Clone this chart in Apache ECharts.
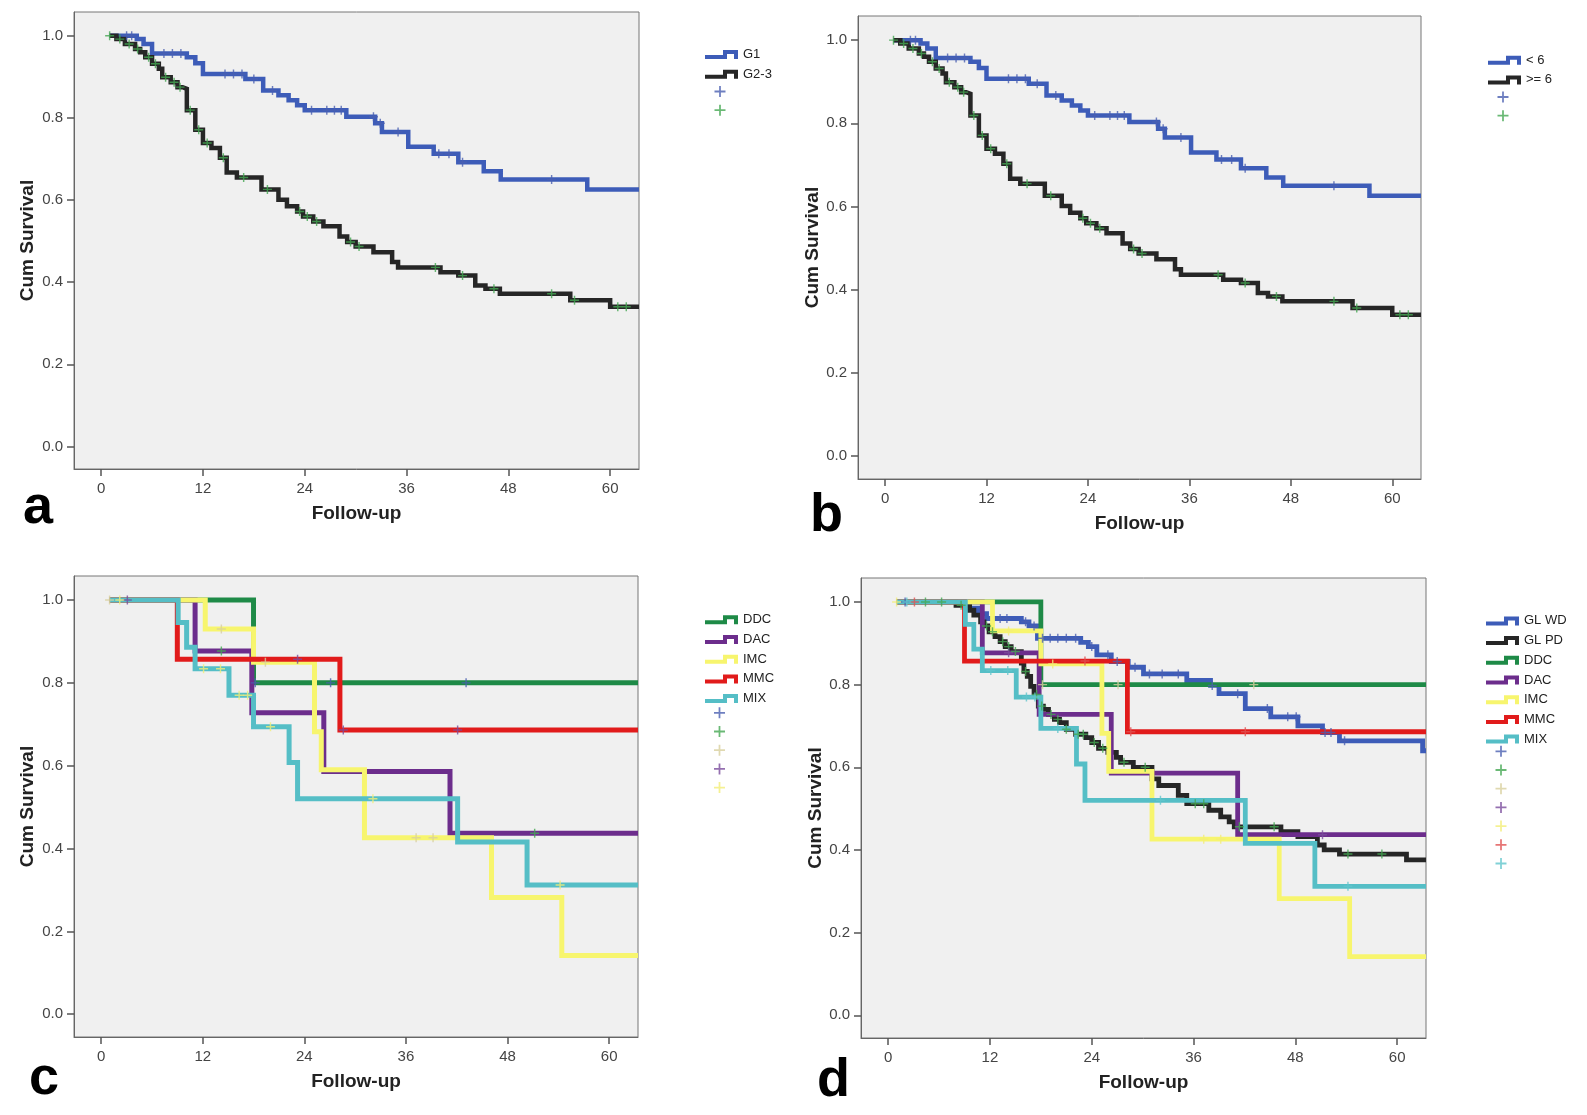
<!DOCTYPE html>
<html><head><meta charset="utf-8">
<script src="https://cdn.jsdelivr.net/npm/echarts@6/dist/echarts.min.js"></script>
<style>html,body{margin:0;padding:0;background:#fff}#chart{width:1587px;height:1115px}</style>
</head><body><div id="chart"></div>
<script>
// ---------- axis ticks ----------
const xTicks = [0, 12, 24, 36, 48, 60];
const yTicks = [0, 0.2, 0.4, 0.6, 0.8, 1.0];

// ---------- panel a (and b: same groups, read identical) ----------
const g1Curve = [[1.0,1.0],[4.2,0.992],[5.0,0.980],[6.0,0.957],[10.1,0.948],[11.1,0.933],[12.0,0.907],[17.0,0.895],[19.1,0.867],[20.9,0.855],[22.1,0.843],[23.1,0.831],[24.0,0.819],[28.9,0.803],[32.3,0.787],[33.1,0.766],[36.2,0.730],[39.2,0.713],[42.1,0.692],[45.1,0.670],[47.1,0.650],[57.3,0.626],[63.4,0.626]];
const g1Censor = [[3.0,1.0],[3.6,1.0],[7.4,0.957],[8.4,0.957],[9.4,0.957],[14.6,0.907],[15.6,0.907],[16.6,0.907],[18.0,0.895],[20.2,0.867],[24.8,0.819],[26.6,0.819],[27.5,0.819],[28.3,0.819],[32.1,0.803],[32.9,0.787],[35.0,0.766],[39.8,0.713],[41.0,0.713],[42.6,0.692],[53.1,0.650]];
const g23Curve = [[1.0,1.0],[1.8,0.992],[2.8,0.980],[4.0,0.968],[4.6,0.960],[5.2,0.948],[6.0,0.932],[6.8,0.920],[7.2,0.899],[8.2,0.887],[9.0,0.875],[9.6,0.871],[10.1,0.819],[11.1,0.771],[12.0,0.739],[13.0,0.727],[14.0,0.703],[14.8,0.667],[16.0,0.655],[18.9,0.626],[20.9,0.601],[21.9,0.585],[23.1,0.572],[23.8,0.560],[25.0,0.548],[26.2,0.536],[28.1,0.511],[29.0,0.498],[30.0,0.487],[32.1,0.473],[34.3,0.449],[35.0,0.436],[40.0,0.424],[42.1,0.416],[44.1,0.392],[45.3,0.384],[47.0,0.372],[55.3,0.356],[60.0,0.340],[63.4,0.340]];
const g23Censor = [[1.0,1.0],[2.2,0.992],[3.3,0.980],[4.3,0.968],[5.6,0.948],[6.4,0.932],[7.6,0.899],[8.6,0.887],[9.3,0.875],[10.5,0.819],[11.5,0.771],[12.5,0.739],[14.4,0.703],[16.8,0.655],[19.6,0.626],[23.4,0.572],[24.3,0.560],[25.4,0.548],[29.4,0.498],[30.4,0.487],[39.4,0.436],[42.6,0.416],[46.3,0.384],[53.1,0.372],[55.8,0.356],[60.9,0.340],[61.9,0.340]];
const lt6Curve = g1Curve, lt6Censor = g1Censor;
const ge6Curve = g23Curve, ge6Censor = g23Censor;

// ---------- panel c (histotypes; reused in d) ----------
const ddcCurve = [[1.0,1.0],[18.0,0.8],[63.4,0.8]];
const ddcCensor = [[18.2,0.8],[27.1,0.8],[43.1,0.8]];
const dacCurve = [[1.0,1.0],[11.1,0.877],[17.8,0.728],[26.3,0.586],[41.2,0.437],[63.4,0.437]];
const dacCensor = [[14.2,0.877],[51.2,0.437]];
const imcCurve = [[1.0,1.0],[12.3,0.930],[18.0,0.850],[25.2,0.682],[26.0,0.590],[31.1,0.426],[46.1,0.282],[54.4,0.142],[63.4,0.142]];
const imcCensor = [[1.0,1.0],[14.2,0.930],[19.4,0.850],[37.2,0.426],[39.2,0.426]];
const mmcCurve = [[1.0,1.0],[9.0,0.857],[28.2,0.686],[63.4,0.686]];
const mmcCensor = [[3.1,1.0],[23.2,0.857],[28.6,0.686],[42.1,0.686]];
const mixCurve = [[1.0,1.0],[9.1,0.946],[10.1,0.886],[11.1,0.834],[15.1,0.770],[18.0,0.694],[22.2,0.608],[23.2,0.520],[42.1,0.416],[50.3,0.312],[63.4,0.312]];
const mixCensor = [[2.2,1.0],[12.1,0.834],[14.1,0.834],[16.3,0.770],[17.3,0.770],[20.0,0.694],[32.1,0.520],[54.2,0.312]];

// ---------- panel d (gland-forming groups) ----------
const glwdCurve = [[1.0,1.0],[9.4,0.985],[10.6,0.972],[11.6,0.960],[15.7,0.952],[16.6,0.942],[17.6,0.912],[22.7,0.902],[23.6,0.892],[24.6,0.872],[26.3,0.856],[28.3,0.842],[30.1,0.826],[35.2,0.810],[38.0,0.798],[39.0,0.778],[42.1,0.742],[45.1,0.722],[48.3,0.700],[51.2,0.684],[53.2,0.664],[63.0,0.640],[63.4,0.640]];
const glwdCensor = [[2.0,1.0],[13.2,0.960],[14.0,0.960],[16.2,0.952],[17.2,0.942],[18.2,0.912],[19.1,0.912],[20.0,0.912],[21.0,0.912],[22.1,0.912],[24.0,0.892],[25.9,0.872],[27.0,0.856],[29.1,0.842],[30.8,0.826],[32.3,0.826],[34.2,0.826],[38.2,0.798],[41.2,0.778],[44.7,0.742],[47.1,0.722],[48.1,0.722],[51.5,0.684],[52.2,0.684],[53.8,0.664]];
const glpdCurve = [[1.0,1.0],[8.0,0.992],[9.6,0.980],[10.1,0.968],[10.9,0.952],[11.3,0.942],[11.9,0.928],[12.6,0.916],[13.2,0.904],[13.8,0.892],[14.5,0.880],[15.7,0.852],[16.0,0.832],[16.4,0.820],[16.8,0.796],[17.2,0.776],[17.7,0.748],[18.3,0.740],[18.9,0.728],[19.6,0.716],[20.2,0.708],[21.0,0.692],[22.1,0.680],[23.3,0.672],[24.0,0.660],[24.8,0.646],[25.9,0.636],[26.9,0.624],[27.4,0.612],[28.9,0.600],[31.1,0.572],[31.9,0.556],[34.2,0.532],[35.2,0.512],[37.8,0.496],[39.2,0.480],[40.2,0.468],[40.8,0.456],[46.3,0.444],[48.3,0.432],[50.6,0.412],[51.4,0.400],[53.2,0.390],[61.1,0.376],[63.4,0.376]];
const glpdCensor = [[4.4,1.0],[6.3,1.0],[8.6,0.992],[11.6,0.942],[12.3,0.928],[13.5,0.904],[14.2,0.892],[15.0,0.880],[16.2,0.832],[17.5,0.776],[18.1,0.748],[19.2,0.728],[20.0,0.716],[21.0,0.692],[22.4,0.680],[23.0,0.680],[24.3,0.660],[25.3,0.646],[27.8,0.612],[30.3,0.600],[36.2,0.512],[37.2,0.512],[41.4,0.456],[45.5,0.456],[54.2,0.390],[58.2,0.390]];

// ---------- styling ----------
const FONT = 'Liberation Sans, Arial, sans-serif';
const C = {
  blue:'#3d5cb8', black:'#262626', green:'#1e8a47', purple:'#6c2d8c', yellow:'#f7f56e', red:'#e11b1b', cyan:'#55bec6',
  cBlue:'#4a5fb0', cGreen:'#45a853', cBeige:'#d8cf9e', cPurple:'#7b4c9c', cYellow:'#f2ee78', cRed:'#e05252', cCyan:'#62c6cc'
};
const STEP_ICON = 'path://M0,5 L18,5 L18,0 L33,0 L33,9 L29,9 L29,4 L22,4 L22,9 L0,9 Z';
const PLUS = 'path://M4.2,0 L5.8,0 L5.8,4.2 L10,4.2 L10,5.8 L5.8,5.8 L5.8,10 L4.2,10 L4.2,5.8 L0,5.8 L0,4.2 L4.2,4.2 Z';

const panels = [
  { key:'a', grid:{left:74, top:12, width:565, height:457}, yGap:37, lw:4.5,
    groups:[['G1', g1Curve, g1Censor, C.blue, C.cBlue], ['G2-3', g23Curve, g23Censor, C.black, C.cGreen]],
    legLine:{left:705, top:48}, legPlus:{left:714.5, top:86} },
  { key:'b', grid:{left:858, top:16, width:563, height:463}, yGap:32, lw:4.5,
    groups:[['< 6', lt6Curve, lt6Censor, C.blue, C.cBlue], ['>= 6', ge6Curve, ge6Censor, C.black, C.cGreen]],
    legLine:{left:1488, top:53.7}, legPlus:{left:1497.5, top:91.5} },
  { key:'c', grid:{left:74, top:576, width:564, height:461}, yGap:37, lw:5,
    groups:[['DDC', ddcCurve, ddcCensor, C.green, C.cBlue], ['DAC', dacCurve, dacCensor, C.purple, C.cGreen],
            ['IMC', imcCurve, imcCensor, C.yellow, C.cBeige], ['MMC', mmcCurve, mmcCensor, C.red, C.cPurple],
            ['MIX', mixCurve, mixCensor, C.cyan, C.cYellow]],
    legLine:{left:705, top:613.3}, legPlus:{left:714, top:707.3} },
  { key:'d', grid:{left:861, top:578, width:565, height:460}, yGap:35, lw:4.8,
    groups:[['GL WD', glwdCurve, glwdCensor, C.blue, C.cBlue], ['GL PD', glpdCurve, glpdCensor, C.black, C.cGreen],
            ['DDC', ddcCurve, ddcCensor, C.green, C.cBeige], ['DAC', dacCurve, dacCensor, C.purple, C.cPurple],
            ['IMC', imcCurve, imcCensor, C.yellow, C.cYellow], ['MMC', mmcCurve, mmcCensor, C.red, C.cRed],
            ['MIX', mixCurve, mixCensor, C.cyan, C.cCyan]],
    legLine:{left:1486, top:614.4}, legPlus:{left:1495.5, top:745.8} }
];

const ROW = 18.7;
const grids = [], xAxes = [], yAxes = [], series = [], legends = [];
const fmt = n => n.indexOf('#') >= 0 ? '' : n.split(':')[1];

panels.forEach((p, i) => {
  grids.push(Object.assign({show:true, backgroundColor:'#f0f0f0', borderColor:'#777', borderWidth:1, outerBoundsMode:'none', containLabel:false}, p.grid));
  xAxes.push({
    gridIndex:i, type:'value', min:-3.2, max:63.4,
    name:'Follow-up', nameLocation:'middle', nameGap:35,
    nameTextStyle:{fontSize:19, fontWeight:'bold', color:'#222', fontFamily:FONT},
    axisLine:{show:true, onZero:false, lineStyle:{color:'#666', width:1}},
    axisTick:{show:true, length:7, customValues:xTicks, lineStyle:{color:'#555', width:1.5}},
    axisLabel:{customValues:xTicks, fontSize:15, color:'#444', margin:12, fontFamily:FONT},
    splitLine:{show:false}
  });
  yAxes.push({
    gridIndex:i, type:'value', min:-0.055, max:1.058,
    name:'Cum Survival', nameLocation:'middle', nameGap:p.yGap,
    nameTextStyle:{fontSize:19, fontWeight:'bold', color:'#222', fontFamily:FONT},
    axisLine:{show:true, onZero:false, lineStyle:{color:'#666', width:1}},
    axisTick:{show:true, length:7, customValues:yTicks, lineStyle:{color:'#555', width:1.5}},
    axisLabel:{customValues:yTicks, fontSize:15, color:'#444', margin:11, fontFamily:FONT, formatter:v => v.toFixed(1)},
    splitLine:{show:false}
  });
  const lineNames = [], plusNames = [];
  p.groups.forEach((g, k) => {
    const [label, curve, cens, col, ccol] = g;
    const nm = p.key + ':' + label;
    lineNames.push(nm);
    series.push({type:'line', name:nm, xAxisIndex:i, yAxisIndex:i, data:curve, step:'end',
      showSymbol:false, symbol:'none', silent:true, z:2 + k * 0.01,
      lineStyle:{color:col, width:p.lw, join:'miter', cap:'butt'}, itemStyle:{color:col},
      emphasis:{disabled:true}});
  });
  p.groups.forEach((g, k) => {
    const [label, curve, cens, col, ccol] = g;
    const nm = p.key + ':' + label + '#';
    plusNames.push(nm);
    series.push({type:'scatter', name:nm, xAxisIndex:i, yAxisIndex:i, data:cens,
      symbol:PLUS, symbolSize:9, silent:true, z:5, itemStyle:{color:ccol}, emphasis:{disabled:true}});
  });
  legends.push({orient:'vertical', left:p.legLine.left, top:p.legLine.top, padding:0,
    itemWidth:33, itemHeight:9, itemGap:ROW - 12, icon:STEP_ICON, selectedMode:false,
    data:lineNames, formatter:fmt, itemStyle:{borderWidth:0},
    textStyle:{fontSize:13, color:'#222', lineHeight:12, fontFamily:FONT}});
  legends.push({orient:'vertical', left:p.legPlus.left, top:p.legPlus.top, padding:0,
    itemWidth:11, itemHeight:11, itemGap:ROW - 11, icon:PLUS, selectedMode:false,
    data:plusNames, formatter:fmt, itemStyle:{borderWidth:0},
    textStyle:{fontSize:11, color:'#222', lineHeight:11, fontFamily:FONT}});
});

const letter = (t, x, yMid) => ({type:'text', x:x, y:yMid, silent:true,
  style:{text:t, fill:'#000', font:'bold 54px ' + FONT, textAlign:'left', textVerticalAlign:'middle', verticalAlign:'middle'}});

const chart = echarts.init(document.getElementById('chart'), null, {renderer:'canvas'});
chart.setOption({
  animation:false,
  backgroundColor:'#ffffff',
  textStyle:{fontFamily:FONT},
  grid:grids, xAxis:xAxes, yAxis:yAxes, legend:legends, series:series,
  graphic:[letter('a', 23, 508), letter('b', 810, 516), letter('c', 29, 1079), letter('d', 817, 1081)]
});
</script></body></html>
